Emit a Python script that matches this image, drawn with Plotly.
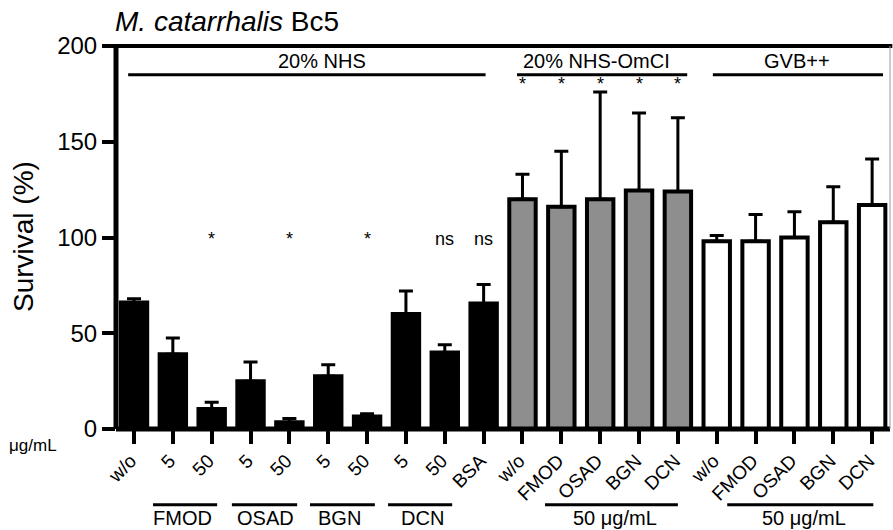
import plotly.graph_objects as go

# ---------------- data ----------------
tick_labels = ["w/o", "5", "50", "5", "50", "5", "50", "5", "50", "BSA",
               "w/o", "FMOD", "OSAD", "BGN", "DCN",
               "w/o", "FMOD", "OSAD", "BGN", "DCN"]

nhs_values = [66, 39, 10.5, 25, 3.5, 27.5, 6.5, 60, 40, 65.5]
nhs_errors = [2, 8.5, 3.5, 10, 2, 6, 1.5, 12, 4, 10]

omci_values = [120, 116, 120, 124.5, 124]
omci_errors = [13, 29, 56, 40.5, 38.5]

gvb_values = [98, 98, 100, 108, 117]
gvb_errors = [3, 14, 13.5, 18.5, 24]

y_ticks = [0, 50, 100, 150, 200]

sig_nhs = ["", "", "*", "", "*", "", "*", "", "ns", "ns"]
sig_omci = ["*", "*", "*", "*", "*"]

group_top_labels = ["20% NHS", "20% NHS-OmCI", "GVB++"]
protein_labels = ["FMOD", "OSAD", "BGN", "DCN"]
conc_label = "50 μg/mL"

title_text = "<i>M. catarrhalis</i> Bc5"
y_title = "Survival (%)"
unit_label = "μg/mL"

# ---------------- figure ----------------
FONT = "Liberation Sans, Arial, sans-serif"
n_nhs = len(nhs_values)
n_omci = len(omci_values)
x_nhs = list(range(n_nhs))
x_omci = list(range(n_nhs, n_nhs + n_omci))
x_gvb = list(range(n_nhs + n_omci, n_nhs + n_omci + len(gvb_values)))
x_all = list(range(len(tick_labels)))

BW = 0.68
LW = 4
XR = [-0.463, 19.46]
LABEL_SHIFT = 0.08  # tick labels sit a touch left of their ticks


def bar_trace(x, y, err, fill):
    return go.Bar(
        x=x, y=y, width=BW,
        marker=dict(color=fill, line=dict(color="black", width=LW)),
        error_y=dict(type="data", array=err, arrayminus=[0] * len(err),
                     symmetric=False, color="black", thickness=3, width=7),
        showlegend=False, hoverinfo="skip",
    )


fig = go.Figure()
fig.add_trace(bar_trace(x_nhs, nhs_values, nhs_errors, "black"))
fig.add_trace(bar_trace(x_omci, omci_values, omci_errors, "#8e8e8e"))
fig.add_trace(bar_trace(x_gvb, gvb_values, gvb_errors, "white"))
# invisible helper trace so the label axis is drawn
fig.add_trace(go.Scatter(x=[x_all[0]], y=[0], xaxis="x2", yaxis="y", mode="markers",
                         marker=dict(opacity=0), showlegend=False, hoverinfo="skip"))

shapes = []
annotations = []

# axis lines (drawn as shapes so they sit centred on the plot edges)
shapes.append(dict(type="line", xref="paper", yref="paper", x0=0, x1=0, y0=0, y1=1,
                   line=dict(color="black", width=5), layer="above"))
shapes.append(dict(type="line", xref="paper", yref="paper", x0=0, x1=1, y0=0, y1=0,
                   line=dict(color="black", width=5), layer="above"))
shapes.append(dict(type="line", xref="paper", yref="paper", x0=-0.003, x1=1.003, y0=1, y1=1,
                   line=dict(color="black", width=4), layer="above"))
shapes.append(dict(type="line", xref="paper", yref="paper", x0=1, x1=1, y0=0, y1=1,
                   line=dict(color="#9a9a9a", width=1), layer="above"))

# top group lines + labels
top_spans = [(-0.15, 9.05), (9.86, 14.24), (14.9, 19.28)]
top_centers = [4.84, 11.9, 17.06]
for (a, b), c, lab in zip(top_spans, top_centers, group_top_labels):
    shapes.append(dict(type="line", xref="x", yref="y", x0=a, x1=b, y0=185, y1=185,
                       line=dict(color="black", width=3)))
    annotations.append(dict(x=c, y=192, xref="x", yref="y", text=lab, showarrow=False,
                            font=dict(size=20, color="black", family=FONT),
                            xanchor="center", yanchor="middle"))

# significance marks
for xi, s in zip(x_nhs, sig_nhs):
    if s:
        annotations.append(dict(x=xi, y=99, xref="x", yref="y", text=s, showarrow=False,
                                font=dict(size=18, color="black", family=FONT),
                                xanchor="center", yanchor="middle"))
for xi, s in zip(x_omci, sig_omci):
    annotations.append(dict(x=xi, y=180, xref="x", yref="y", text=s, showarrow=False,
                            font=dict(size=18, color="black", family=FONT),
                            xanchor="center", yanchor="middle"))

# bottom group lines + labels
y_line_b = -0.198
y_lab_b = -0.232
bottom_spans = [(0.49, 2.14), (2.52, 4.2), (4.53, 6.2), (6.54, 8.19)]
bottom_centers = [1.26, 3.39, 5.3, 7.43]
for (a, b), c, lab in zip(bottom_spans, bottom_centers, protein_labels):
    shapes.append(dict(type="line", xref="x", yref="paper", x0=a, x1=b, y0=y_line_b, y1=y_line_b,
                       line=dict(color="black", width=3)))
    annotations.append(dict(x=c, y=y_lab_b, xref="x", yref="paper", text=lab, showarrow=False,
                            font=dict(size=20, color="black", family=FONT),
                            xanchor="center", yanchor="middle"))
for (a, b), c in zip([(10.58, 14.0), (15.27, 19.03)], [12.38, 17.24]):
    shapes.append(dict(type="line", xref="x", yref="paper", x0=a, x1=b, y0=y_line_b, y1=y_line_b,
                       line=dict(color="black", width=3)))
    annotations.append(dict(x=c, y=y_lab_b, xref="x", yref="paper", text=conc_label, showarrow=False,
                            font=dict(size=20, color="black", family=FONT),
                            xanchor="center", yanchor="middle"))

# unit label, title, y title
annotations.append(dict(x=-0.1066, y=-0.044, xref="paper", yref="paper", text=unit_label,
                        showarrow=False, font=dict(size=17, color="black", family=FONT),
                        xanchor="center", yanchor="middle"))
annotations.append(dict(x=-0.004, y=1.064, xref="paper", yref="paper", text=title_text,
                        showarrow=False, font=dict(size=28, color="black", family=FONT),
                        xanchor="left", yanchor="middle"))
annotations.append(dict(x=-0.1195, y=0.5026, xref="paper", yref="paper", text=y_title,
                        textangle=-90, showarrow=False,
                        font=dict(size=28, color="black", family=FONT),
                        xanchor="center", yanchor="middle"))

fig.update_layout(
    width=893, height=530,
    margin=dict(l=116, r=3, t=46, b=101, pad=0),
    paper_bgcolor="white", plot_bgcolor="white",
    barmode="overlay",
    showlegend=False,
    shapes=shapes,
    annotations=annotations,
    font=dict(family=FONT, color="black"),
    xaxis=dict(
        range=XR,
        tickmode="array", tickvals=x_all, showticklabels=False,
        ticks="outside", ticklen=14, tickwidth=4, tickcolor="black",
        showline=False, showgrid=False, zeroline=False,
    ),
    xaxis2=dict(
        overlaying="x", side="bottom", anchor="y",
        range=[XR[0] + LABEL_SHIFT, XR[1] + LABEL_SHIFT],
        tickmode="array", tickvals=x_all, ticktext=tick_labels,
        tickangle=-45, tickfont=dict(size=19, family=FONT, color="black"),
        ticks="", ticklabelstandoff=16,
        showline=False, showgrid=False, zeroline=False,
    ),
    yaxis=dict(
        range=[0, 200],
        tickmode="array", tickvals=y_ticks,
        tickfont=dict(size=24, family=FONT, color="black"),
        ticks="outside", ticklen=13, tickwidth=4, tickcolor="black",
        showline=False, showgrid=False, zeroline=False,
    ),
)

fig.write_html(
    "out.html",
    config={"displayModeBar": False},
    post_script="document.body.style.margin='0';document.body.style.overflow='hidden';",
)
